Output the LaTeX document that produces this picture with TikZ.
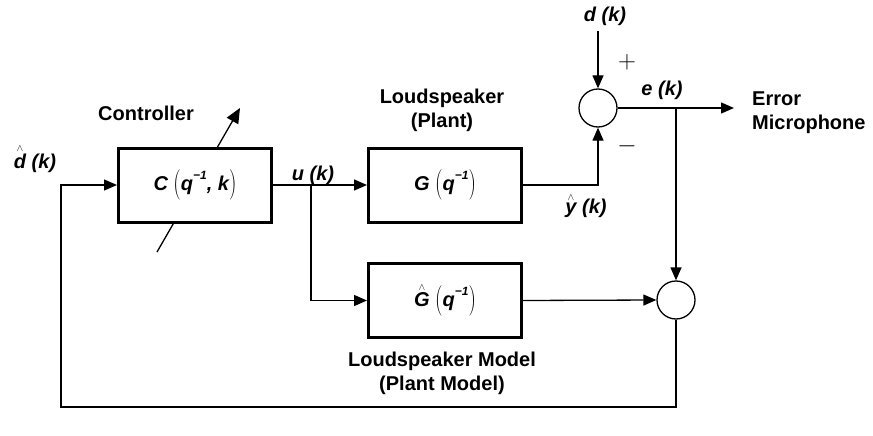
\documentclass[tikz,border=0pt]{standalone}
\usepackage{fontspec}
\usepackage{graphicx}
\newfontfamily\arialf{Liberation Sans}
\usetikzlibrary{arrows.meta}
\newcommand\bpar[1]{{\rmfamily\mdseries\upshape\raisebox{-0.12em}{\scalebox{1}[1.45]{\fontsize{21}{21}\selectfont #1}}}}
\newcommand\supm{\raisebox{0.55em}{\fontsize{12}{12}\selectfont\bfseries −1}}
\newcommand\hatl[1]{\setbox0\hbox{#1}\rlap{\hbox to\wd0{\hss\raisebox{\dimexpr\ht0+2.5pt\relax}{\rmfamily\mdseries\upshape\fontsize{10}{10}\selectfont$\wedge$}\hss}}\box0\relax}
\begin{document}
\begin{tikzpicture}[x=1pt,y=-1pt,
  conn/.style={line width=1.3pt,-{Triangle[length=13pt,width=11pt]}},
  blk/.style={draw,line width=3pt,fill=white,minimum width=153pt,minimum height=74pt,inner sep=0pt,font=\arialf\bfseries\itshape\fontsize{20}{20}\selectfont},
  sumc/.style={draw,circle,line width=1.3pt,fill=white,minimum size=38pt,inner sep=0pt},
  lbl/.style={font=\arialf\bfseries\fontsize{20}{24}\selectfont,inner sep=0pt,align=center},
  mlbl/.style={font=\arialf\bfseries\itshape\fontsize{20}{20}\selectfont,inner sep=0pt},
  sgn/.style={font=\rmfamily\fontsize{28}{28}\selectfont,inner sep=0pt}]
\useasboundingbox (0,0) rectangle (873,436);
\coordinate (ca) at (157,252);
\coordinate (cb) at (240,108);
\draw[line width=1.3pt,-{Triangle[length=15pt,width=13pt]}] (ca) -- (cb);
\node[blk] (C) at (195,185) {C \bpar{(}q\supm, k\bpar{)}};
\node[blk] (G) at (445,185) {G \bpar{(}q\supm\bpar{)}};
\node[blk] (Gh) at (445,300.5) {\hatl{G} \bpar{(}q\supm\bpar{)}};
\node[sumc] (s1) at (598,108) {};
\node[sumc] (s2) at (676,300) {};
\coordinate (din) at (598,31);
\coordinate (eout) at (734,108);
\coordinate (eb) at (676,108);
\coordinate (ub) at (311,185);
\coordinate (fb1) at (676,407);
\coordinate (fb2) at (61,407);
\coordinate (fb3) at (61,185);
\draw[conn] (din) -- (s1.north);
\draw[conn] (G.east) -| (s1.south);
\draw[conn] (s1.east) -- (eout);
\draw[conn] (eb) -- (s2.north);
\draw[conn] (C.east) -- (G.west);
\draw[conn] (ub) |- (Gh.west);
\draw[conn] (Gh.east) -- (s2.west);
\draw[conn] (s2.south) -- (fb1) -- (fb2) -- (fb3) -- (C.west);
\node[lbl] (ctl) at (146,113) {Controller};
\node[lbl] (ls) at (442,110) {Loudspeaker\\(Plant)};
\node[lbl] (lsm) at (442,373) {Loudspeaker Model\\(Plant Model)};
\node[lbl,anchor=west,align=left] (mic) at (752,113) {Error\\Microphone};
\node[mlbl] (dh) at (35,159) {\hatl{d} (k)};
\node[mlbl] (uk) at (313,175) {u (k)};
\node[mlbl] (yh) at (586,206) {\hatl{y} (k)};
\node[mlbl] (dk) at (605,16) {d (k)};
\node[mlbl] (ek) at (662,90) {e (k)};
\node[sgn] (plus) at (627,62) {$+$};
\node[sgn] (minus) at (627,146) {$-$};
\end{tikzpicture}
\end{document}
